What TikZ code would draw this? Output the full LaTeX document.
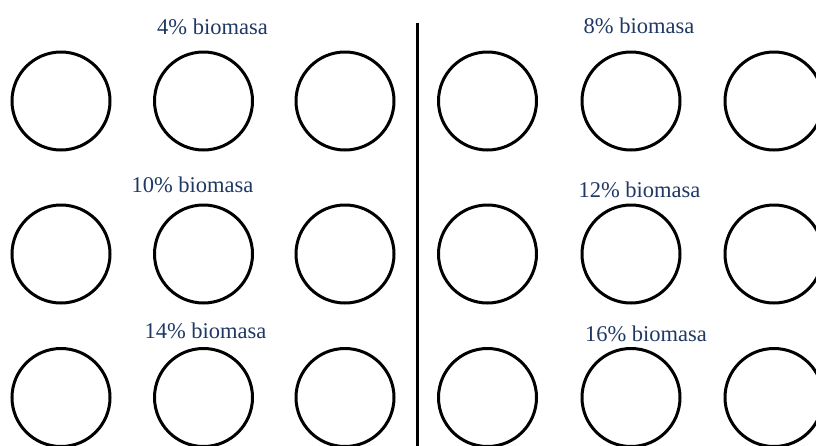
\documentclass[tikz,border=0pt]{standalone}
\usepackage{fontspec}
\setmainfont{Liberation Serif}
\definecolor{labelblue}{RGB}{31,56,100}
\begin{document}
\begin{tikzpicture}[x=1pt,y=-1pt,
  ring/.style={circle,draw=black,line width=3pt,minimum size=98pt,inner sep=0pt},
  lbl/.style={anchor=base,text=labelblue,font=\fontsize{22.5pt}{26pt}\selectfont,inner sep=0pt},
  divider/.style={draw=black,line width=3pt}]
\useasboundingbox (0,0) rectangle (816,445);
% row 1
\node[ring] (a1) at (61,101) {};
\node[ring] (a2) at (203.5,101) {};
\node[ring] (a3) at (345,101) {};
\node[ring] (a4) at (487.5,101) {};
\node[ring] (a5) at (631,101) {};
\node[ring] (a6) at (774,101) {};
% row 2
\node[ring] (b1) at (61,254) {};
\node[ring] (b2) at (203.5,254) {};
\node[ring] (b3) at (345,254) {};
\node[ring] (b4) at (487.5,254) {};
\node[ring] (b5) at (631,254) {};
\node[ring] (b6) at (774,254) {};
% row 3
\node[ring] (c1) at (61,397.5) {};
\node[ring] (c2) at (203.5,397.5) {};
\node[ring] (c3) at (345,397.5) {};
\node[ring] (c4) at (487.5,397.5) {};
\node[ring] (c5) at (631,397.5) {};
\node[ring] (c6) at (774,397.5) {};
% labels
\node[lbl] (l4) at (212.5,34) {4\% biomasa};
\node[lbl] (l8) at (639,33) {8\% biomasa};
\node[lbl] (l10) at (192.5,192) {10\% biomasa};
\node[lbl] (l12) at (639.5,197) {12\% biomasa};
\node[lbl] (l14) at (205.5,338) {14\% biomasa};
\node[lbl] (l16) at (646,341) {16\% biomasa};
% divider
\coordinate (dtop) at (417,23);
\coordinate (dbot) at (417,446);
\draw[divider] (dtop) -- (dbot);
\end{tikzpicture}
\end{document}
